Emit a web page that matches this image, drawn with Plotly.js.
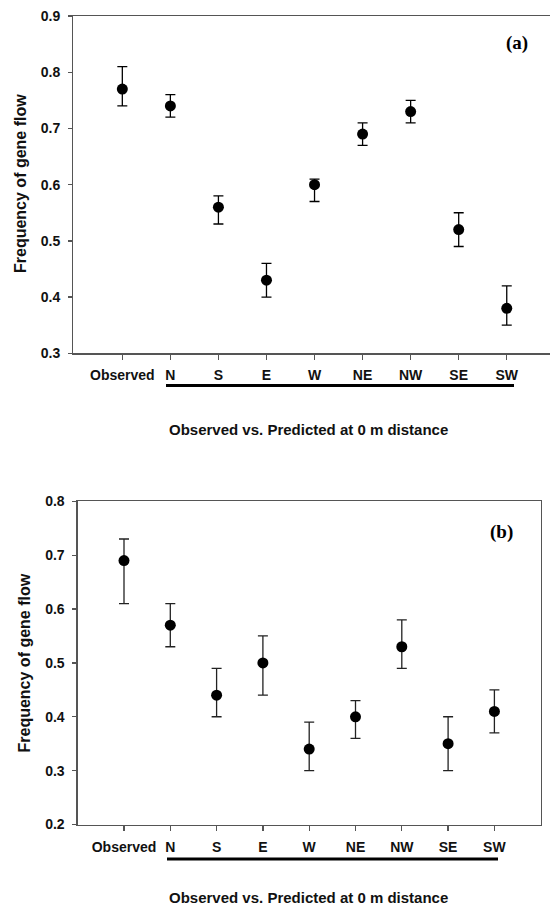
<!DOCTYPE html>
<html>
<head>
<meta charset="utf-8">
<script src="https://cdn.plot.ly/plotly-3.0.1.min.js"></script>
<style>html,body{margin:0;padding:0;background:#fff;}#chart{width:550px;height:906px;}</style>
</head>
<body>
<div id="chart"></div>
<script>
// Categories
const categories = ['Observed', 'N', 'S', 'E', 'W', 'NE', 'NW', 'SE', 'SW'];

// Panel (a): mean, upper and lower error-bar ends
const meanA  = [0.77, 0.74, 0.56, 0.43, 0.60, 0.69, 0.73, 0.52, 0.38];
const upperA = [0.81, 0.76, 0.58, 0.46, 0.61, 0.71, 0.75, 0.55, 0.42];
const lowerA = [0.74, 0.72, 0.53, 0.40, 0.57, 0.67, 0.71, 0.49, 0.35];

// Panel (b)
const meanB  = [0.69, 0.57, 0.44, 0.50, 0.34, 0.40, 0.53, 0.35, 0.41];
const upperB = [0.73, 0.61, 0.49, 0.55, 0.39, 0.43, 0.58, 0.40, 0.45];
const lowerB = [0.61, 0.53, 0.40, 0.44, 0.30, 0.36, 0.49, 0.30, 0.37];

// Tick labels
const yTicksA = [0.3, 0.4, 0.5, 0.6, 0.7, 0.8, 0.9];
const yTicksB = [0.2, 0.3, 0.4, 0.5, 0.6, 0.7, 0.8];

const xTitle = 'Observed vs. Predicted at 0 m distance';
const yTitle = 'Frequency of gene flow';

const W = 550, H = 906;
const px = v => v / W;
const py = v => 1 - v / H;

function trace(mean, upper, lower, xa, ya, ecol) {
  return {
    type: 'scatter', mode: 'markers',
    x: categories, y: mean, xaxis: xa, yaxis: ya,
    marker: {color: '#000', size: 11},
    error_y: {
      type: 'data', symmetric: false,
      array: upper.map((u, i) => +(u - mean[i]).toFixed(4)),
      arrayminus: lower.map((l, i) => +(mean[i] - l).toFixed(4)),
      color: ecol, thickness: 1.3, width: 5
    },
    showlegend: false, hoverinfo: 'skip'
  };
}

const tickFont = {family: 'Liberation Sans, Arial, sans-serif', size: 14, color: '#111', weight: 'bold'};
const axisCommon = {
  showgrid: false, zeroline: false, showline: true,
  linecolor: '#555', linewidth: 1.3,
  ticks: 'outside', tickcolor: '#555', tickwidth: 1.3,
  tickfont: tickFont
};

function ann(x, y, text, font, angle) {
  return {xref: 'paper', yref: 'paper', x: px(x), y: py(y), text: text, showarrow: false,
          xanchor: 'center', yanchor: 'middle', textangle: angle || 0, font: font};
}
const serifFont = {family: 'Liberation Serif, Times New Roman, serif', size: 19, color: '#000'};
const xtFont = {family: 'Liberation Sans, Arial, sans-serif', size: 15, color: '#111'};
const ytFont = {family: 'Liberation Sans, Arial, sans-serif', size: 16, color: '#111'};

const layout = {
  width: W, height: H,
  margin: {l: 0, r: 0, t: 0, b: 0},
  paper_bgcolor: '#fff', plot_bgcolor: '#fff',
  font: {family: 'Liberation Sans, Arial, sans-serif', color: '#111'},
  xaxis: Object.assign({}, axisCommon, {
    domain: [px(73.3), 1], anchor: 'y',
    type: 'category', range: [-1.02, 8.9],
    mirror: true, ticklen: 5, ticklabelstandoff: 4
  }),
  yaxis: Object.assign({}, axisCommon, {
    domain: [py(353.3), py(16)], anchor: 'x',
    range: [0.3, 0.9], tickvals: yTicksA, ticktext: yTicksA.map(v => v.toFixed(1)),
    ticklen: 4, mirror: false, ticklabelstandoff: 5
  }),
  xaxis2: Object.assign({}, axisCommon, {
    domain: [px(77.7), px(540.7)], anchor: 'y2',
    type: 'category', range: [-1, 9],
    mirror: true, ticklen: 5, ticklabelstandoff: 4
  }),
  yaxis2: Object.assign({}, axisCommon, {
    domain: [py(824.5), py(501.3)], anchor: 'x2',
    range: [0.2, 0.8], tickvals: yTicksB, ticktext: yTicksB.map(v => v.toFixed(1)),
    ticklen: 4, mirror: true, ticklabelstandoff: 5
  }),
  shapes: [
    {type: 'line', xref: 'paper', yref: 'paper', x0: px(166), x1: px(514), y0: py(385.5), y1: py(385.5),
     line: {color: '#000', width: 3.2}},
    {type: 'line', xref: 'paper', yref: 'paper', x0: px(167), x1: px(498), y0: py(859), y1: py(859),
     line: {color: '#000', width: 3.2}}
  ],
  annotations: [
    ann(516.7, 42.7, '<b>(a)</b>', serifFont),
    ann(501, 531.7, '<b>(b)</b>', serifFont),
    ann(308.5, 429.3, '<b>' + xTitle + '</b>', xtFont),
    ann(308.7, 897.7, '<b>' + xTitle + '</b>', xtFont),
    ann(20, 184, '<b>' + yTitle + '</b>', ytFont, -90),
    ann(23.5, 663, '<b>' + yTitle + '</b>', ytFont, -90)
  ]
};

Plotly.newPlot('chart', [
  trace(meanA, upperA, lowerA, 'x', 'y', '#000'),
  trace(meanB, upperB, lowerB, 'x2', 'y2', '#222')
], layout, {staticPlot: true, displayModeBar: false});
</script>
</body>
</html>
